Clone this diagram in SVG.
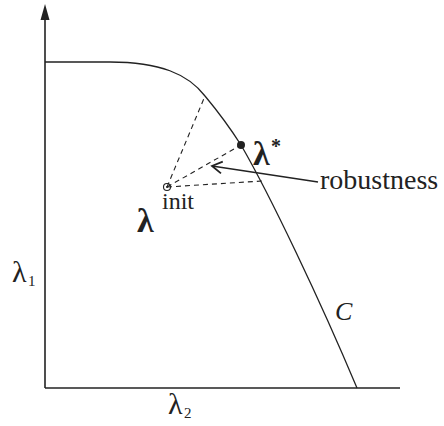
<svg xmlns="http://www.w3.org/2000/svg" width="444" height="426" viewBox="0 0 444 426">
<style>
.ax{stroke:#222;stroke-width:1.6;fill:none}
.cv{stroke:#222;stroke-width:1.3;fill:none}
.ds{stroke:#222;stroke-width:1.1;fill:none;stroke-dasharray:5,4}
.t{font-family:"Liberation Serif","Times New Roman",serif;fill:#222}
</style>
<defs>
<marker id="ah" markerWidth="14" markerHeight="14" refX="12" refY="7" orient="auto" markerUnits="userSpaceOnUse">
<path d="M2,1 L12,7 L2,13" fill="none" stroke="#222" stroke-width="1.8"/>
</marker>
</defs>
<g id="axes">
<path class="ax" d="M45,388 V18"/>
<path d="M45,4 L49.5,20 L40.5,20 Z" fill="#222"/>
<path class="ax" d="M45,388 H400"/>
</g>
<g id="curve">
<path class="cv" d="M45,62 H110 C160,62 188,74 205,96 Q225,120 241,145 C270,195 320,300 357,388"/>
</g>
<g id="connectors">
<path class="ds" d="M167,187 L205,96"/>
<path class="ds" d="M167,187 L241,145"/>
<path class="ds" d="M167,187 L262,181"/>
<path d="M318,182 L212,166" stroke="#222" stroke-width="1.6" fill="none" marker-end="url(#ah)"/>
</g>
<g id="lambda-init">
<circle cx="167" cy="187" r="3.5" fill="none" stroke="#222" stroke-width="1.1"/>
<circle cx="167" cy="187" r="1" fill="#222"/>
<text class="t" x="137" y="232" font-size="34" font-weight="bold">λ</text>
<text class="t" x="162" y="209" font-size="24">init</text>
</g>
<g id="lambda-star">
<circle cx="241" cy="145" r="4" fill="#222"/>
<text class="t" x="253" y="165" font-size="34" font-weight="bold">λ</text>
<text class="t" x="271" y="153" font-size="20" font-weight="bold">*</text>
</g>
<g id="robustness">
<text class="t" x="320" y="189" font-size="28">robustness</text>
</g>
<g id="labelC">
<text class="t" x="335" y="320" font-size="26" font-style="italic">C</text>
</g>
<g id="lambda1">
<text class="t" x="12" y="282" font-size="30">λ</text>
<text class="t" x="28" y="286" font-size="15">1</text>
</g>
<g id="lambda2">
<text class="t" x="168" y="414" font-size="30">λ</text>
<text class="t" x="184" y="418" font-size="15">2</text>
</g>
</svg>
